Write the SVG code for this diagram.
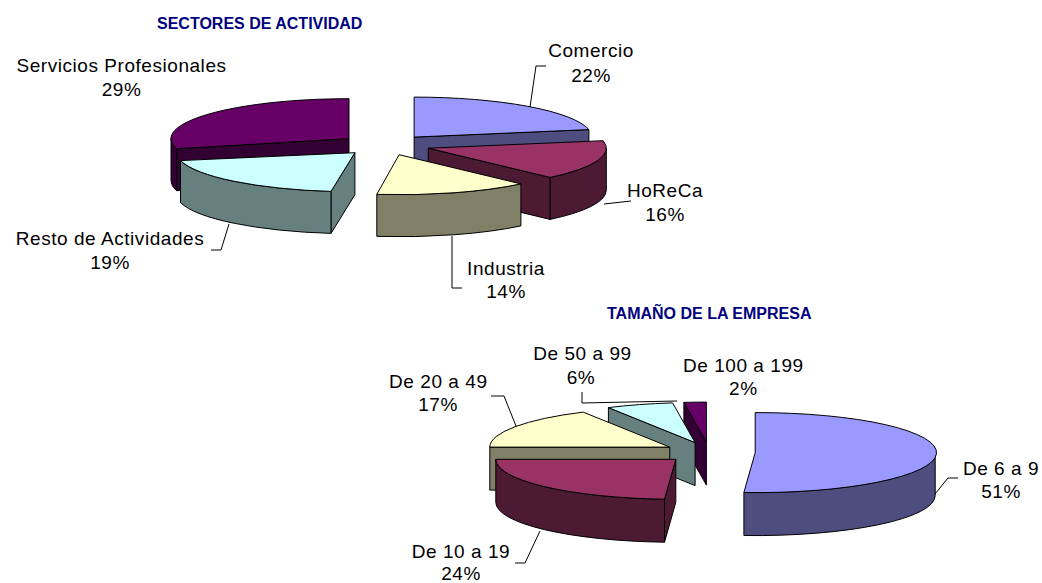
<svg xmlns="http://www.w3.org/2000/svg" width="1042" height="583" viewBox="0 0 1042 583">
<style>
.s{stroke:#000;stroke-width:1;stroke-linejoin:round}
.bt{fill:#9999FF}.bs{fill:#4D4D80}
.pt{fill:#993366}.ps{fill:#4D1A33}
.yt{fill:#FFFFCC}.ys{fill:#808066}
.ct{fill:#CCFFFF}.cs{fill:#668080}
.vt{fill:#660066}.vs{fill:#330033}
.lbl{font-family:"Liberation Sans",Arial,sans-serif;font-size:19px;fill:#000;text-anchor:middle;letter-spacing:0.55px}
.ttl{font-family:"Liberation Sans",Arial,sans-serif;font-size:16px;font-weight:bold;fill:#000080}
.ld{fill:none;stroke:#000;stroke-width:1}
</style>
<rect width="1042" height="583" fill="#fff"/>
<text class="ttl" x="157" y="29.3">SECTORES DE ACTIVIDAD</text>
<text class="ttl" x="607" y="319.3">TAMAÑO DE LA EMPRESA</text>

<g id="servicios">
<path class="s vs" d="M349,138.7 L176.6,148.7 L176.6,190.7 L349,180.7 Z"/>
<path class="s vs" d="M176.6,148.7 A178,40 0 0 1 171,138.7 L171,180.7 A178,40 0 0 0 176.6,190.7 Z"/>
<path class="s vt" d="M349,138.7 L176.6,148.7 A178,40 0 0 1 349,98.7 Z"/>
</g>
<g id="comercio">
<path class="s bs" d="M414.1,137.1 L588.9,129.6 L588.9,171.6 L414.1,179.1 Z"/>
<path class="s bt" d="M414.1,137.1 L414.1,97.1 A178,40 0 0 1 588.9,129.6 Z"/>
</g>
<g id="resto">
<path class="s cs" d="M354.9,152.7 L331,191.4 L331,233.4 L354.9,194.7 Z"/>
<path class="s cs" d="M331,191.4 A178,40 0 0 1 180.5,160.6 L180.5,202.6 A178,40 0 0 0 331,233.4 Z"/>
<path class="s ct" d="M354.9,152.7 L331,191.4 A178,40 0 0 1 180.5,160.6 Z"/>
</g>
<g id="horeca">
<path class="s ps" d="M606.3,148.2 A178,40 0 0 1 550.1,177.4 L550.1,219.4 A178,40 0 0 0 606.3,190.2 Z"/>
<path class="s ps" d="M428.3,148.2 L550.1,177.4 L550.1,219.4 L428.3,190.2 Z"/>
<path class="s pt" d="M428.3,148.2 L603.2,140.7 A178,40 0 0 1 550.1,177.4 Z"/>
</g>
<g id="industria">
<path class="s ys" d="M520.9,183.9 A178,40 0 0 1 376.8,194.4 L376.8,236.4 A178,40 0 0 0 520.9,225.9 Z"/>
<path class="s yt" d="M399.1,154.7 L520.9,183.9 A178,40 0 0 1 376.8,194.4 Z"/>
</g>

<g id="e100">
<path class="s vs" d="M706.4,442.1 L683.9,402.4 L683.9,445.4 L706.4,485.1 Z"/>
<path class="s vt" d="M706.4,442.1 L683.9,402.4 A180,40 0 0 1 706.4,402.1 Z"/>
</g>
<g id="e50">
<path class="s cs" d="M695.1,442.6 L608.4,407.6 L608.4,450.6 L695.1,485.6 Z"/>
<path class="s ct" d="M695.1,442.6 L608.4,407.6 A180,40 0 0 1 672.6,402.9 Z"/>
</g>
<g id="e20">
<path class="s ys" d="M669.8,447.1 L489.8,447.1 L489.8,490.1 L669.8,490.1 Z"/>
<path class="s yt" d="M669.8,447.1 L489.8,447.1 A180,40 0 0 1 583.1,412.1 Z"/>
</g>
<g id="e6">
<path class="s bs" d="M935.2,452.6 A180,40 0 0 1 743.9,492.5 L743.9,535.5 A180,40 0 0 0 935.2,495.6 Z"/>
<path class="s bt" d="M755.2,452.6 L755.2,412.6 A180,40 0 1 1 743.9,492.5 Z"/>
</g>
<g id="e10">
<path class="s ps" d="M675.8,459.3 L664.5,499.2 L664.5,542.2 L675.8,502.3 Z"/>
<path class="s ps" d="M664.5,499.2 A180,40 0 0 1 495.8,459.3 L495.8,502.3 A180,40 0 0 0 664.5,542.2 Z"/>
<path class="s pt" d="M675.8,459.3 L664.5,499.2 A180,40 0 0 1 495.8,459.3 Z"/>
</g>

<g id="connectors">
<path class="ld" d="M530,107 L536,66 L546,66"/>
<path class="ld" d="M604,204 L631,201"/>
<path class="ld" d="M452,236 L452,288 L462,288"/>
<path class="ld" d="M229,224 L221,250 L211,250"/>
<path class="ld" d="M935,494 L948,478 L958,478"/>
<path class="ld" d="M540,531 L525,563 L515,563"/>
<path class="ld" d="M491,396 L504,396 L516,426"/>
<path class="ld" d="M582,392 L582,403 L677,401"/>
</g>

<g id="labels">
<text class="lbl" x="121.5" y="72">Servicios Profesionales</text>
<text class="lbl" x="121.5" y="95.5">29%</text>
<text class="lbl" x="591" y="57">Comercio</text>
<text class="lbl" x="591" y="81.5">22%</text>
<text class="lbl" x="665" y="197">HoReCa</text>
<text class="lbl" x="665" y="221">16%</text>
<text class="lbl" x="506" y="275">Industria</text>
<text class="lbl" x="506" y="298">14%</text>
<text class="lbl" x="110" y="245">Resto de Actividades</text>
<text class="lbl" x="110" y="269">19%</text>
<text class="lbl" x="582.5" y="360">De 50 a 99</text>
<text class="lbl" x="581" y="383.5">6%</text>
<text class="lbl" x="743.3" y="372">De 100 a 199</text>
<text class="lbl" x="743.3" y="395">2%</text>
<text class="lbl" x="438.3" y="388">De 20 a 49</text>
<text class="lbl" x="438" y="411">17%</text>
<text class="lbl" x="461" y="558">De 10 a 19</text>
<text class="lbl" x="461" y="580">24%</text>
<text class="lbl" x="1001" y="475">De 6 a 9</text>
<text class="lbl" x="1001" y="498">51%</text>
</g>
</svg>
